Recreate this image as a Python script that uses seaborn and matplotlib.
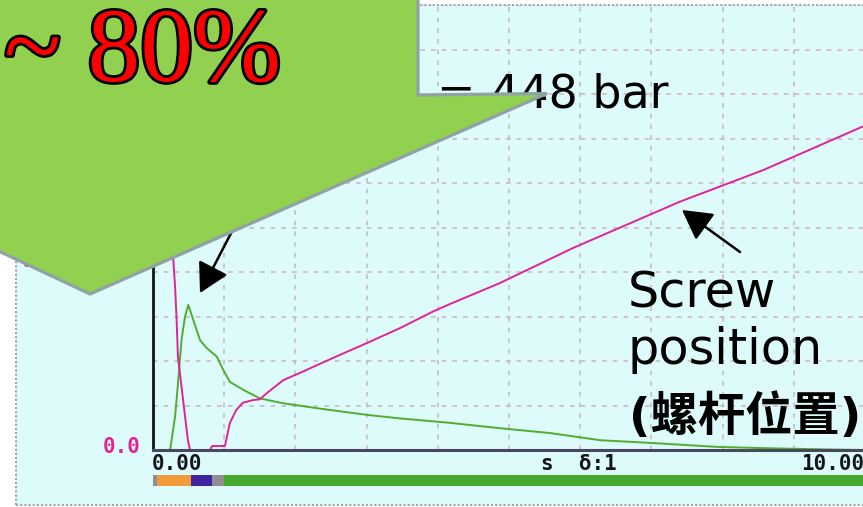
import numpy as np
import pandas as pd
import matplotlib
matplotlib.use("Agg")
import matplotlib.pyplot as plt
import matplotlib.patheffects as pe
from matplotlib.patches import Polygon, Rectangle
import seaborn as sns

# Screw position trace (s, divisions)
screw_t = [0.27, 0.285, 0.31, 0.33, 0.35, 0.49, 0.52, 0.80, 0.83, 1.01, 1.08, 1.17,
           1.26, 1.40, 1.50, 1.60, 1.83, 2.06, 2.53, 3.00, 3.47, 3.93, 4.17, 4.87,
           5.90, 7.40, 8.57, 9.97]
screw_pos = [6.0, 4.27, 3.67, 2.99, 2.10, 0.22, 0.0, 0.0, 0.09, 0.09, 0.61, 0.90,
             1.06, 1.12, 1.14, 1.28, 1.57, 1.73, 2.07, 2.40, 2.74, 3.11, 3.28, 3.75,
             4.54, 5.58, 6.29, 7.27]

# Injection pressure trace (s, divisions)
press_t = [0.0, 0.24, 0.31, 0.355, 0.40, 0.45, 0.496, 0.566, 0.66, 0.754, 0.895,
           0.987, 1.08, 1.27, 1.50, 1.83, 2.30, 3.00, 3.47, 4.17, 4.87, 5.58, 6.28,
           6.98, 7.92, 8.62, 9.55, 10.0]
pressure = [0.0, 0.0, 0.75, 1.57, 2.47, 3.0, 3.26, 2.92, 2.47, 2.29, 2.10,
            1.80, 1.53, 1.35, 1.16, 1.05, 0.94, 0.79, 0.71, 0.61, 0.49, 0.38, 0.22,
            0.16, 0.07, 0.04, 0.01, 0.0]

# Machine phase strip under the time axis
phase_start = [0.0, 0.06, 0.53, 0.83, 1.0]
phase_end = [0.06, 0.53, 0.83, 1.0, 10.0]
phase_colors = ["#8e8e92", "#f29a3c", "#3f24a0", "#8e8e92", "#45a82f"]

W, H = 863, 507
fig = plt.figure(figsize=(W / 100, H / 100), dpi=100)
fig.patch.set_facecolor("white")


def fx(x):
    return x / W


def fy(y):
    return 1 - y / H


# recorder screen panel
fig.add_artist(Rectangle((fx(16), fy(505)), fx(890) - fx(16), fy(5) - fy(505),
                         transform=fig.transFigure, facecolor="#dcfbfa",
                         edgecolor="#a4a2aa", lw=1.5, ls=(0, (1, 1)), zorder=-2))

ax = fig.add_axes([fx(153), fy(450), fx(865) - fx(153), fy(5) - fy(450)])
ax.set_facecolor("none")

df_screw = pd.DataFrame({"t": screw_t, "v": screw_pos})
df_press = pd.DataFrame({"t": press_t, "v": pressure})
sns.lineplot(data=df_press, x="t", y="v", ax=ax, color="#52ad2e", lw=1.4,
             estimator=None, sort=False)
sns.lineplot(data=df_screw, x="t", y="v", ax=ax, color="#e0229c", lw=1.4,
             estimator=None, sort=False)

ax.set_xlim(0, 10)
ax.set_ylim(0, 10)
ax.set_xticks(np.arange(0, 11))
ax.set_yticks(np.arange(0, 11))
ax.tick_params(length=0, labelbottom=False, labelleft=False)
ax.set_xlabel("")
ax.set_ylabel("")
ax.grid(True, color="#cdb2bc", ls=(0, (3, 4)), lw=1.1)
for s in ("top", "right"):
    ax.spines[s].set_visible(False)
ax.spines["left"].set_color("#151515")
ax.spines["left"].set_linewidth(2.0)
ax.spines["bottom"].set_color("#4a4860")
ax.spines["bottom"].set_linewidth(2.2)

# phase strip
bar_ax = fig.add_axes([fx(153), fy(486), fx(865) - fx(153), fy(475) - fy(486)])
bar_ax.barh([0] * len(phase_start), np.subtract(phase_end, phase_start),
            left=phase_start, color=phase_colors, height=1.0)
bar_ax.set_xlim(0, 10)
bar_ax.set_ylim(-0.5, 0.5)
bar_ax.axis("off")

mono = dict(family="DejaVu Sans Mono", weight="bold", size=15)
fig.text(fx(152), fy(464), "0.00", ha="left", va="center", color="#141420", **mono)
fig.text(fx(541), fy(464), "s  δ:1", ha="left", va="center", color="#141420", **mono)
fig.text(fx(864), fy(464), "10.00", ha="right", va="center", color="#141420", **mono)
fig.text(fx(141), fy(447), "0.0", ha="right", va="center", color="#e0229c", **mono)
ax.text(fx(22), fy(271), "50.0", transform=fig.transFigure, ha="left",
        va="bottom", color="#e0229c", **mono)

# annotations beneath the callout
ax.text(fx(668), fy(108), "= 448 bar", transform=fig.transFigure, ha="right",
        va="baseline", size=33, family="DejaVu Sans", color="black")
arrow = dict(arrowstyle="-|>,head_length=0.9,head_width=0.5", mutation_scale=20,
             lw=1.8, color="black", shrinkA=0, shrinkB=0)
ax.annotate("", xy=(200, H - 293), xytext=(242, H - 212), xycoords="figure pixels",
            textcoords="figure pixels", arrowprops=arrow, annotation_clip=False)
ax.annotate("", xy=(682, H - 210), xytext=(740, H - 252), xycoords="figure pixels",
            textcoords="figure pixels", arrowprops=arrow, annotation_clip=False)

lab = dict(size=35.5, family="DejaVu Sans", color="black", ha="left", va="baseline")
fig.text(fx(628), fy(308), "Screw", **lab)
fig.text(fx(628), fy(364), "position", **lab)
fig.text(fx(629), fy(431), "(螺杆位置)", size=34, weight="bold",
         family=["DejaVu Sans", "Noto Sans CJK SC"], color="black",
         ha="left", va="baseline")

# callout shape
callout = Polygon([(fx(-10), fy(-10)), (fx(418), fy(-10)), (fx(418), fy(95)),
                   (fx(547), fy(93.5)), (fx(90), fy(294)), (fx(-10), fy(247))],
                  closed=True, transform=fig.transFigure, facecolor="#92d050",
                  edgecolor="#8fa2a4", lw=2.3, joinstyle="miter", zorder=5)
fig.add_artist(callout)

fig.text(fx(4), fy(81), "~ 80%", ha="left", va="baseline", size=76,
         family="Liberation Serif", color="#ff0000", zorder=6,
         path_effects=[pe.withStroke(linewidth=4, foreground="black")])

fig.savefig("out.png", dpi=100)
